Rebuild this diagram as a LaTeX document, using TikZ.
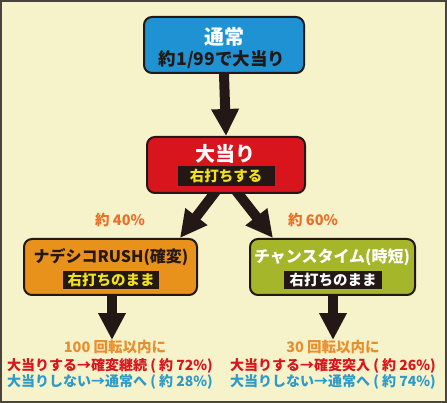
\documentclass[tikz,border=0pt]{standalone}
\usepackage{fontspec}
\setmainfont{Noto Sans CJK JP}
\usetikzlibrary{arrows.meta,backgrounds}
\definecolor{ink}{HTML}{231815}
\definecolor{cream}{HTML}{F6F3CA}
\definecolor{framegray}{HTML}{4A443C}
\definecolor{normalblue}{HTML}{1E92D2}
\definecolor{hitred}{HTML}{D8141C}
\definecolor{rushorange}{HTML}{E8921C}
\definecolor{chancegreen}{HTML}{A5B62A}
\definecolor{pctorange}{HTML}{E8702A}
\definecolor{spinorange}{HTML}{E88E2C}
\definecolor{winred}{HTML}{D8141C}
\definecolor{loseblue}{HTML}{2C9BCB}
\definecolor{bandyellow}{HTML}{F2E21C}
\begin{document}
\begin{tikzpicture}[x=1pt,y=-1pt,
  modebox/.style={draw=ink,line width=2pt,rounded corners=8pt,minimum height=56pt,inner sep=0pt},
  title/.style={inner sep=0pt,font=\fontsize{16}{18}\selectfont\bfseries},
  bigtitle/.style={inner sep=0pt,font=\fontsize{20}{22}\selectfont\bfseries},
  band/.style={fill=ink,inner sep=0pt,minimum height=20pt,font=\fontsize{14.5}{16}\selectfont\bfseries},
  note/.style={inner sep=0pt,font=\fontsize{14.5}{16}\selectfont\bfseries},
  result/.style={inner sep=0pt,font=\fontsize{14}{16}\selectfont\bfseries},
  fat/.style={draw=ink,line width=10pt,-{Triangle[width=26pt,length=27pt]}}]
\useasboundingbox (0,0) rectangle (447,403);

% boxes
\node[modebox,fill=normalblue,minimum width=160pt] (normal) at (224,45) {};
\node[bigtitle,white] (normaltitle) at (224,37) {通常};
\node[title,ink,font=\fontsize{17.5}{19}\selectfont\bfseries] (normalodds) at (222,60) {約1/99で大当り};

\node[modebox,fill=hitred,minimum width=158pt] (hit) at (226,165) {};
\node[bigtitle,white] (hittitle) at (225,154) {大当り};
\node[band,text=bandyellow,minimum width=97pt] (hitband) at (226,176) {右打ちする};

\node[modebox,fill=rushorange,minimum width=173pt] (rush) at (110.5,267) {};
\node[title,ink] (rushtitle) at (111,257) {ナデシコRUSH(確変)};
\node[band,text=bandyellow,minimum width=96pt,minimum height=18pt] (rushband) at (111,280) {右打ちのまま};

\node[modebox,fill=chancegreen,minimum width=165pt] (chance) at (332.5,267) {};
\node[title,white] (chancetitle) at (332,257) {チャンスタイム(時短)};
\node[band,text=white,minimum width=98pt,minimum height=18pt] (chanceband) at (333,280) {右打ちのまま};

% split ratios
\node[note,pctorange] (rushpct) at (120,220) {約 40\%};
\node[note,pctorange] (chancepct) at (313,220) {約 60\%};

% outcomes
\node[note,spinorange] (rushspin) at (115,347) {100 回転以内に};
\node[result,winred] (rushwin) at (110,366) {大当りする→確変継続 ( 約 72\%)};
\node[result,loseblue] (rushlose) at (110,382) {大当りしない→通常へ ( 約 28\%)};
\node[note,spinorange] (chancespin) at (333,347) {30 回転以内に};
\node[result,winred] (chancewin) at (333,366) {大当りする→確変突入 ( 約 26\%)};
\node[result,loseblue] (chancelose) at (333,382) {大当りしない→通常へ ( 約 74\%)};

\coordinate (fork) at (226,178);
\coordinate (rushin) at (180,238);
\coordinate (chancein) at (273,238);
\coordinate (rushout) at (112,340);
\coordinate (chanceout) at (333,340);

\begin{scope}[on background layer]
\fill[framegray] (0,0) rectangle (447,403);
\fill[cream] (2,2) rectangle (445,401);
\draw[fat] (fork) -- (rushin);
\draw[fat] (fork) -- (chancein);
\end{scope}

\draw[fat] (normal.south) -- (hit.north);
\draw[fat] (rush.south -| rushout) -- (rushout);
\draw[fat] (chance.south -| chanceout) -- (chanceout);
\end{tikzpicture}
\end{document}
